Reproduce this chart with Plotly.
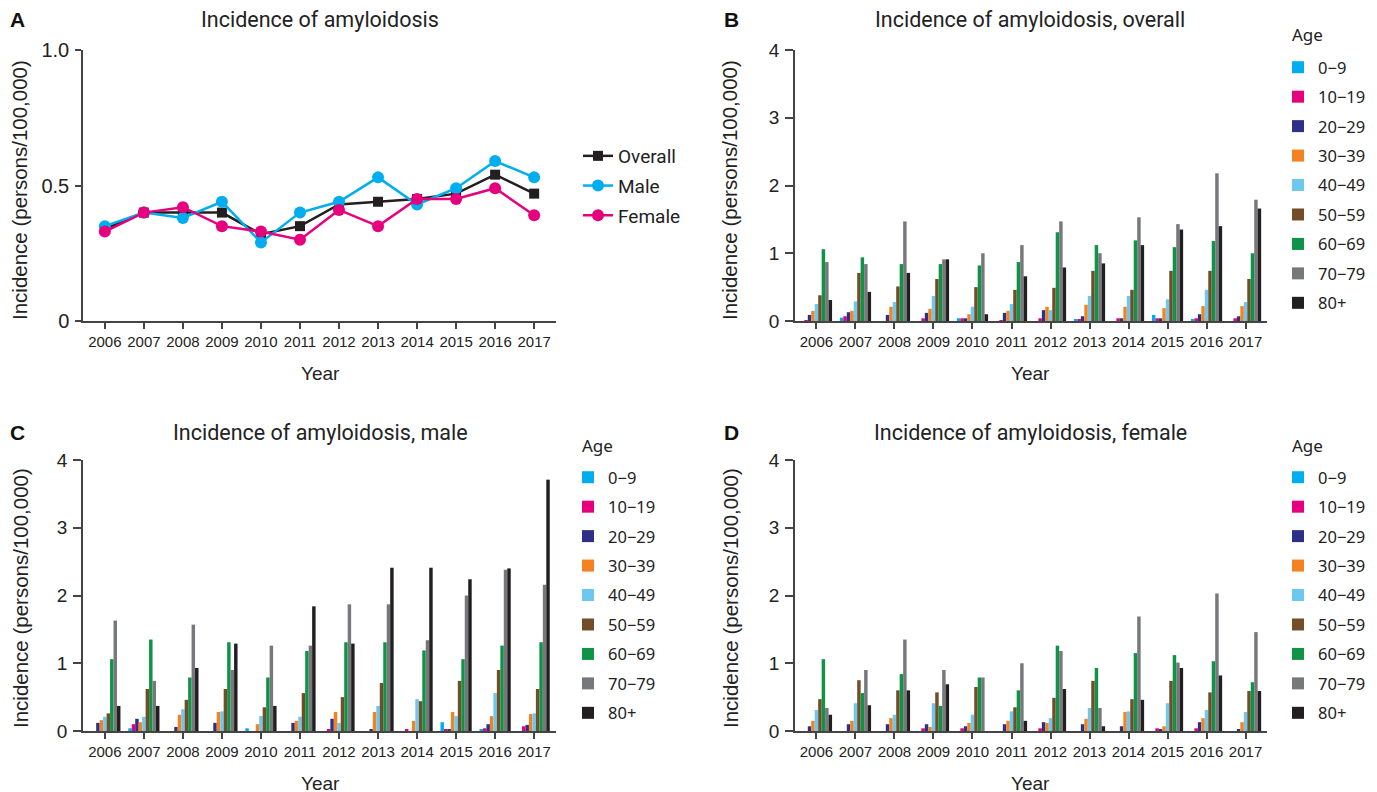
import plotly.graph_objects as go

years = [str(y) for y in range(2006, 2018)]

overall = [0.34, 0.40, 0.40, 0.40, 0.32, 0.35, 0.43, 0.44, 0.45, 0.47, 0.54, 0.47]
male = [0.35, 0.40, 0.38, 0.44, 0.29, 0.40, 0.44, 0.53, 0.43, 0.49, 0.59, 0.53]
female = [0.33, 0.40, 0.42, 0.35, 0.33, 0.30, 0.41, 0.35, 0.45, 0.45, 0.49, 0.39]

age_groups = ["0−9", "10−19", "20−29", "30−39", "40−49", "50−59", "60−69", "70−79", "80+"]
age_colors = ["#00aeef", "#e5007e", "#2e3087", "#f58220", "#6dc8f0",
              "#734c28", "#0e9347", "#77787b", "#231f20"]

overall_by_age = [
    [0, 0.05, 0, 0, 0.04, 0, 0, 0.03, 0, 0.09, 0.03, 0],
    [0.01, 0.07, 0, 0.04, 0.04, 0.01, 0.04, 0.03, 0.04, 0.04, 0.04, 0.04],
    [0.09, 0.13, 0.09, 0.12, 0.04, 0.12, 0.16, 0.07, 0.04, 0.04, 0.10, 0.07],
    [0.15, 0.15, 0.21, 0.18, 0.10, 0.15, 0.21, 0.24, 0.21, 0.19, 0.22, 0.22],
    [0.25, 0.29, 0.28, 0.37, 0.21, 0.25, 0.16, 0.37, 0.37, 0.32, 0.46, 0.28],
    [0.38, 0.71, 0.51, 0.62, 0.50, 0.46, 0.49, 0.74, 0.46, 0.74, 0.74, 0.62],
    [1.06, 0.94, 0.84, 0.84, 0.82, 0.87, 1.31, 1.12, 1.19, 1.09, 1.18, 1.00],
    [0.87, 0.84, 1.47, 0.91, 1.00, 1.12, 1.47, 1.00, 1.53, 1.43, 2.18, 1.79],
    [0.31, 0.43, 0.71, 0.91, 0.10, 0.66, 0.79, 0.85, 1.12, 1.35, 1.40, 1.66],
]
male_by_age = [
    [0, 0.04, 0, 0, 0.04, 0, 0, 0, 0, 0.13, 0.03, 0],
    [0, 0.10, 0, 0, 0, 0, 0.03, 0, 0.03, 0.03, 0.04, 0.07],
    [0.12, 0.18, 0.06, 0.12, 0, 0.12, 0.18, 0.03, 0, 0.03, 0.10, 0.09],
    [0.16, 0.13, 0.24, 0.28, 0.10, 0.15, 0.28, 0.28, 0.15, 0.28, 0.22, 0.25],
    [0.21, 0.21, 0.32, 0.29, 0.22, 0.21, 0.12, 0.37, 0.47, 0.22, 0.56, 0.26],
    [0.26, 0.62, 0.46, 0.62, 0.35, 0.56, 0.50, 0.71, 0.44, 0.74, 0.90, 0.62],
    [1.06, 1.35, 0.79, 1.31, 0.79, 1.18, 1.31, 1.31, 1.19, 1.06, 1.26, 1.31],
    [1.63, 0.74, 1.57, 0.90, 1.26, 1.26, 1.87, 1.87, 1.34, 2.00, 2.38, 2.16],
    [0.37, 0.37, 0.93, 1.29, 0.37, 1.84, 1.29, 2.41, 2.41, 2.24, 2.40, 3.71],
]
female_by_age = [
    [0, 0, 0, 0, 0, 0, 0, 0, 0, 0, 0, 0],
    [0, 0, 0, 0.04, 0.04, 0, 0.04, 0, 0, 0.04, 0.04, 0],
    [0.07, 0.10, 0.10, 0.10, 0.07, 0.10, 0.13, 0.10, 0.07, 0.03, 0.13, 0.03],
    [0.15, 0.15, 0.19, 0.06, 0.12, 0.15, 0.12, 0.18, 0.28, 0.07, 0.19, 0.13],
    [0.31, 0.41, 0.24, 0.41, 0.24, 0.29, 0.19, 0.34, 0.29, 0.41, 0.31, 0.28],
    [0.47, 0.75, 0.60, 0.57, 0.65, 0.35, 0.49, 0.74, 0.47, 0.74, 0.57, 0.59],
    [1.06, 0.56, 0.84, 0.37, 0.79, 0.60, 1.26, 0.93, 1.15, 1.12, 1.03, 0.72],
    [0.34, 0.90, 1.35, 0.90, 0.79, 1.00, 1.18, 0.34, 1.69, 1.01, 2.03, 1.46],
    [0.24, 0.38, 0.60, 0.69, 0, 0.15, 0.62, 0.07, 0.46, 0.93, 0.82, 0.59],
]

W, H = 1377, 792
OFF = 8  # page body margin
COND = "Roboto, sans-serif"
ARIAL = "Liberation Sans, Arial, sans-serif"
LEG = "Noto Sans, Open Sans, sans-serif"
AXC = "#444444"
TXT = "#222222"


def px(x):
    return (x - OFF) / W


def py(y):
    return 1 - (y - OFF) / H


fig = go.Figure()

# Panel A lines
line_specs = [("Overall", overall, "#231f20", "square", 10),
              ("Male", male, "#00aeef", "circle", 12),
              ("Female", female, "#e6007e", "circle", 12)]
for i, (name, vals, col, sym, ms) in enumerate(line_specs):
    fig.add_trace(go.Scatter(
        x=years, y=vals, name=name, mode="lines+markers",
        line=dict(color=col, width=2.5), marker=dict(color=col, symbol=sym, size=ms),
        xaxis="x", yaxis="y", legend="legend", legendgroup="A%d" % i))

panels = [("x2", "y2", "legend2", overall_by_age, "B"),
          ("x3", "y3", "legend3", male_by_age, "C"),
          ("x4", "y4", "legend4", female_by_age, "D")]
for xa, ya, lg, data, tag in panels:
    for i, (ag, col) in enumerate(zip(age_groups, age_colors)):
        fig.add_trace(go.Bar(
            x=years, y=data[i], name=ag, marker=dict(color=col, line=dict(width=0)),
            xaxis=xa, yaxis=ya, legend=lg, legendgroup=tag + str(i)))

xdom_left = [px(83), px(556)]
xdom_right = [px(795), px(1267)]
ydom_top = [py(321), py(50)]
ydom_bot = [py(731), py(460)]

common_x = dict(type="category", showline=True, linecolor=AXC, linewidth=1.5,
                ticks="outside", ticklen=6, tickcolor=AXC, tickwidth=1.5,
                showgrid=False, zeroline=False, tickangle=0, automargin=False)
common_y = dict(showline=True, linecolor=AXC, linewidth=1.5,
                ticks="outside", ticklen=6, tickcolor=AXC, tickwidth=1.5,
                showgrid=False, zeroline=False, automargin=False)
bar_xfont = dict(family=ARIAL, size=15, color=TXT)
bar_yfont = dict(family=ARIAL, size=19, color=TXT)

layout = dict(
    width=W, height=H, margin=dict(l=0, r=0, t=0, b=0, autoexpand=False),
    paper_bgcolor="white", plot_bgcolor="white",
    barmode="group", bargap=0.2, bargroupgap=0,
    showlegend=True,
    xaxis=dict(common_x, domain=xdom_left, anchor="y", range=[-0.56, 11.56],
               tickfont=bar_xfont),
    yaxis=dict(common_y, domain=ydom_top, anchor="x", range=[0, 1.0],
               tickvals=[0, 0.5, 1.0], ticktext=["0", "0.5", "1.0"], ticklen=6,
               ticklabelstandoff=2,
               tickfont=dict(family=ARIAL, size=20, color=TXT)),
    xaxis2=dict(common_x, domain=xdom_right, anchor="y2", range=[-0.55, 11.55], tickfont=bar_xfont),
    yaxis2=dict(common_y, domain=ydom_top, anchor="x2", range=[0, 4], tickvals=[0, 1, 2, 3, 4],
                ticklen=8, ticklabelstandoff=2, tickfont=bar_yfont),
    xaxis3=dict(common_x, domain=xdom_left, anchor="y3", range=[-0.56, 11.56], tickfont=bar_xfont),
    yaxis3=dict(common_y, domain=ydom_bot, anchor="x3", range=[0, 4], tickvals=[0, 1, 2, 3, 4],
                ticklen=8, ticklabelstandoff=2, tickfont=bar_yfont),
    xaxis4=dict(common_x, domain=xdom_right, anchor="y4", range=[-0.55, 11.55], tickfont=bar_xfont),
    yaxis4=dict(common_y, domain=ydom_bot, anchor="x4", range=[0, 4], tickvals=[0, 1, 2, 3, 4],
                ticklen=8, ticklabelstandoff=2, tickfont=bar_yfont),
    legend=dict(x=px(578), y=py(137), xanchor="left", yanchor="top",
                font=dict(family=COND, size=19, color=TXT),
                traceorder="grouped", tracegroupgap=2, bgcolor="rgba(0,0,0,0)"),
)
age_leg = dict(xanchor="left", yanchor="top", font=dict(family=LEG, size=16.5, color=TXT),
               traceorder="grouped", tracegroupgap=5, bgcolor="rgba(0,0,0,0)")
layout["legend2"] = dict(age_leg, x=px(1278), y=py(50))
layout["legend3"] = dict(age_leg, x=px(568), y=py(460))
layout["legend4"] = dict(age_leg, x=px(1278), y=py(460))

fig.update_layout(**layout)

ann = []
for letter, x, y in [("A", 8, 20), ("B", 722, 20), ("C", 8, 432), ("D", 722, 432)]:
    ann.append(dict(text="<b>%s</b>" % letter, x=px(x), y=py(y), xref="paper", yref="paper",
                    xanchor="left", yanchor="middle", showarrow=False,
                    font=dict(family=ARIAL, size=21, color="#111")))
for title, x, y in [("Incidence of amyloidosis", 320, 20),
                    ("Incidence of amyloidosis, overall", 1030, 20),
                    ("Incidence of amyloidosis, male", 320, 432),
                    ("Incidence of amyloidosis, female", 1030, 432)]:
    ann.append(dict(text=title, x=px(x), y=py(y), xref="paper", yref="paper",
                    xanchor="center", yanchor="middle", showarrow=False,
                    font=dict(family=COND, size=21.5, color=TXT)))
for x, y in [(20, 190), (730, 190), (20, 598), (730, 598)]:
    ann.append(dict(text="Incidence (persons/100,000)", x=px(x), y=py(y), xref="paper", yref="paper",
                    xanchor="center", yanchor="middle", showarrow=False, textangle=-90,
                    font=dict(family=ARIAL, size=20.5, color=TXT)))
for x, y in [(320, 373), (1030, 373), (320, 783), (1030, 783)]:
    ann.append(dict(text="Year", x=px(x), y=py(y), xref="paper", yref="paper",
                    xanchor="center", yanchor="middle", showarrow=False,
                    font=dict(family=ARIAL, size=19, color=TXT)))
for x, y in [(1290, 35), (580, 445), (1290, 445)]:
    ann.append(dict(text="Age", x=px(x), y=py(y), xref="paper", yref="paper",
                    xanchor="left", yanchor="middle", showarrow=False,
                    font=dict(family=LEG, size=17, color=TXT)))
fig.update_layout(annotations=ann)

fig.write_html("out.html")
